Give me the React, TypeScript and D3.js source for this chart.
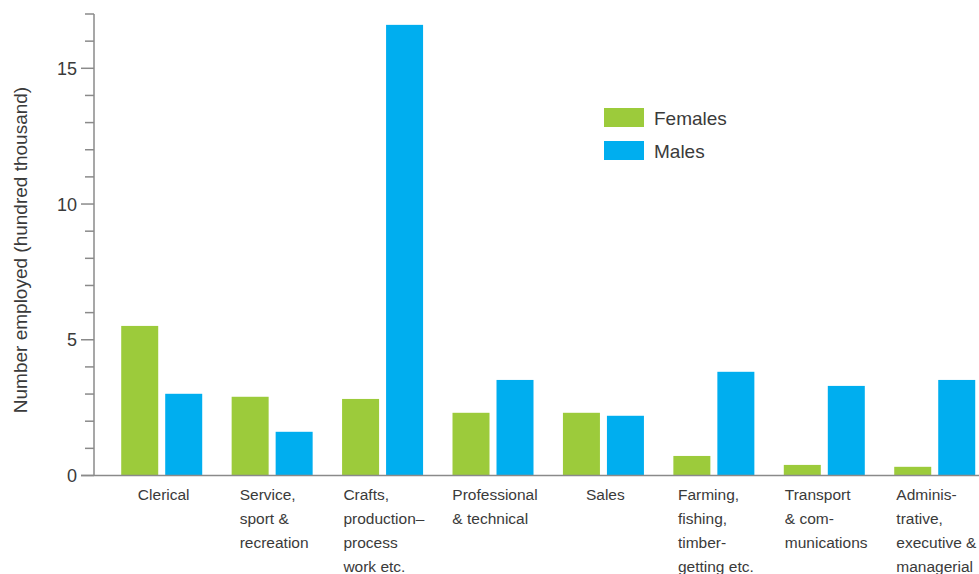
import React, { useEffect, useRef } from "react";
import * as d3 from "d3";

const categories: string[][] = [
  ["Clerical"],
  ["Service,", "sport &", "recreation"],
  ["Crafts,", "production\u2013", "process", "work etc."],
  ["Professional", "& technical"],
  ["Sales"],
  ["Farming,", "fishing,", "timber-", "getting etc."],
  ["Transport", "& com-", "munications"],
  ["Adminis-", "trative,", "executive &", "managerial"],
];
const females: number[] = [5.51, 2.9, 2.82, 2.31, 2.31, 0.72, 0.39, 0.32];
const males: number[] = [3.01, 1.61, 16.6, 3.52, 2.2, 3.82, 3.3, 3.52];
const majorTicks: number[] = [0, 5, 10, 15];
const minorTicks: number[] = d3.range(0, 18);
const seriesNames: string[] = ["Females", "Males"];
const yTitle = "Number employed (hundred thousand)";

const W = 979;
const H = 574;
const GREEN = "#9ccb3b";
const BLUE = "#00aeef";
const AXIS = "#8a8a8a";
const TEXT = "#3a3a3a";
const FONT = "'Liberation Sans', Arial, sans-serif";

export default function App() {
  const ref = useRef<SVGSVGElement>(null);

  useEffect(() => {
    const svg = d3.select(ref.current);
    svg.selectAll("*").remove();

    const axisX = 94;
    const y = d3.scaleLinear().domain([0, 17]).range([475.5, 14]);
    const keys = categories.map((_, i) => String(i));
    const x = d3.scaleBand().domain(keys).range([106.5, 106.5 + 8 * 110.43]).padding(0);
    const barW = 37;
    const gap = 7;

    // bars
    const g = svg.append("g");
    keys.forEach((k, i) => {
      const c = (x(k) as number) + x.bandwidth() / 2;
      g.append("rect")
        .attr("x", c - gap / 2 - barW)
        .attr("width", barW)
        .attr("y", y(females[i]))
        .attr("height", y(0) - y(females[i]))
        .attr("fill", GREEN);
      g.append("rect")
        .attr("x", c + gap / 2)
        .attr("width", barW)
        .attr("y", y(males[i]))
        .attr("height", y(0) - y(males[i]))
        .attr("fill", BLUE);
    });

    // y axis
    const ax = svg.append("g");
    ax.append("line")
      .attr("x1", axisX).attr("x2", axisX)
      .attr("y1", y(17)).attr("y2", y(0))
      .attr("stroke", AXIS).attr("stroke-width", 1.5);
    minorTicks.forEach((t) => {
      const major = majorTicks.includes(t);
      ax.append("line")
        .attr("x1", major ? axisX - 13 : axisX - 9)
        .attr("x2", axisX)
        .attr("y1", y(t)).attr("y2", y(t))
        .attr("stroke", AXIS).attr("stroke-width", 1.5);
    });
    majorTicks.forEach((t) => {
      ax.append("text")
        .attr("x", 77)
        .attr("y", y(t))
        .attr("dy", "0.36em")
        .attr("text-anchor", "end")
        .attr("font-family", FONT)
        .attr("font-size", 18)
        .attr("fill", TEXT)
        .text(String(t));
    });
    // x axis line
    ax.append("line")
      .attr("x1", axisX - 13).attr("x2", W)
      .attr("y1", y(0)).attr("y2", y(0))
      .attr("stroke", AXIS).attr("stroke-width", 1.5);

    // category labels
    keys.forEach((k, i) => {
      const c = (x(k) as number) + x.bandwidth() / 2;
      const tg = svg.append("g");
      const t = tg.append("text")
        .attr("font-family", FONT)
        .attr("font-size", 15.5)
        .attr("fill", TEXT);
      categories[i].forEach((line, j) => {
        t.append("tspan").attr("x", 0).attr("y", 500 + j * 24).text(line);
      });
      const node = t.node() as SVGTextElement;
      const w = node.getBBox().width;
      tg.attr("transform", `translate(${c - w / 2 + 2},0)`);
    });

    // y title
    svg.append("text")
      .attr("transform", `translate(27,250) rotate(-90)`)
      .attr("text-anchor", "middle")
      .attr("font-family", FONT)
      .attr("font-size", 19)
      .attr("fill", TEXT)
      .text(yTitle);

    // legend
    const colors = [GREEN, BLUE];
    seriesNames.forEach((name, i) => {
      svg.append("rect")
        .attr("x", 604).attr("y", 108 + i * 33)
        .attr("width", 40).attr("height", 19)
        .attr("fill", colors[i]);
      svg.append("text")
        .attr("x", 654).attr("y", 118 + i * 33)
        .attr("dy", "0.36em")
        .attr("font-family", FONT)
        .attr("font-size", 19)
        .attr("fill", TEXT)
        .text(name);
    });
  }, []);

  return (
    <svg
      ref={ref}
      width={W}
      height={H}
      style={{ position: "absolute", left: 0, top: 0, background: "#fff" }}
    />
  );
}
